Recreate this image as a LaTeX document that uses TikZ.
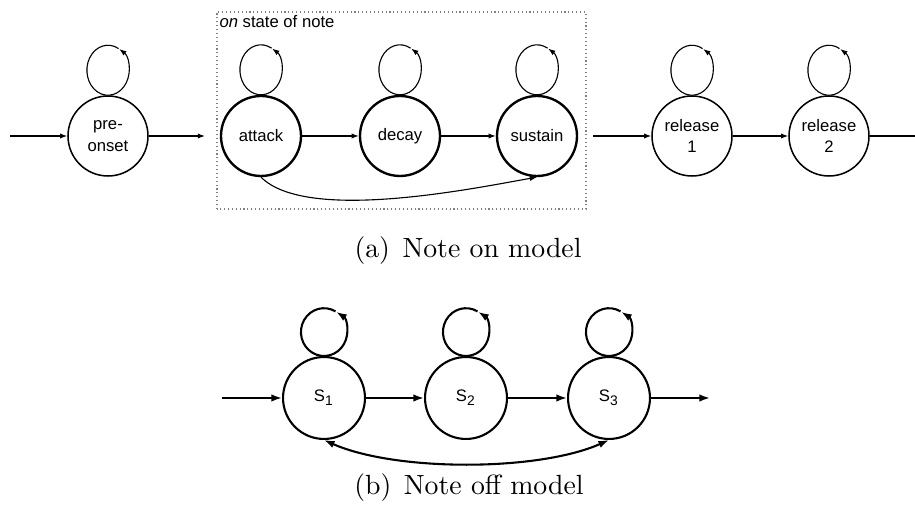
\documentclass[tikz,border=0pt]{standalone}
\usepackage{fontspec}
\setsansfont{Liberation Sans}
\usetikzlibrary{arrows.meta}

\begin{document}
\begin{tikzpicture}[%
      x=0.36pt, y=0.36pt,
      state/.style={circle, draw, inner sep=0pt, minimum size=28.8pt,
        line width=0.55pt, align=center,
        font=\sffamily\fontsize{6}{7.8}\selectfont},
      onstate/.style={state, line width=0.85pt},
      offstate/.style={state, minimum size=29.5pt, line width=0.75pt},
      trans/.style={-{Latex[length=2.6pt,width=1.9pt]}, line width=0.4pt},
      offtrans/.style={-{Latex[length=3.8pt,width=2.7pt]}, line width=0.75pt},
      ]
      \useasboundingbox (0,0) rectangle (915,505);

      % note on model
      \node[state]   (pre)     at (108,369) {pre-\\onset};
      \node[onstate] (attack)  at (261,369) {attack};
      \node[onstate] (decay)   at (400,369) {decay};
      \node[onstate] (sustain) at (537,369) {sustain};
      \node[state]   (rel1)    at (692,369) {release\\1};
      \node[state]   (rel2)    at (829,369) {release\\2};

      \draw [color=gray, line width=0.4pt, densely dotted] (217,296) rectangle (586,493);
      \node [anchor=base west, inner sep=0pt, font=\sffamily\fontsize{6}{7.8}\selectfont]
            (ontitle) at (219,477) {\textit{on} state of note};

      \coordinate (in)    at (10,369);
      \coordinate (onin)  at (205,369);
      \coordinate (onout) at (593,369);
      \coordinate (end)   at (915,369);

      \foreach \s in {pre,attack,decay,sustain,rel1,rel2}
        \draw [trans] (\s.north) ++(0pt,9pt) ++(60:7.6pt and 9pt)
              arc [start angle=60, end angle=418, x radius=7.6pt, y radius=9pt];

      \draw [trans] (in) -- (pre);
      \draw [trans] (pre) -- (onin);
      \draw [trans] (attack) -- (decay);
      \draw [trans] (decay) -- (sustain);
      \draw [trans] (attack.south) to [out=-45, in=-170, looseness=0.6] (sustain.south);
      \draw [trans] (onout) -- (rel1);
      \draw [trans] (rel1) -- (rel2);
      \draw [line width=0.4pt] (rel2) -- (end);

      \node [anchor=base] (capa) at (468,247) {(a)\hspace{4.5pt}Note on model};

      % note off model
      \node[offstate] (s1) at (324,107) {S\textsubscript{1}};
      \node[offstate] (s2) at (466,107) {S\textsubscript{2}};
      \node[offstate] (s3) at (609,107) {S\textsubscript{3}};

      \coordinate (offin)  at (222,107);
      \coordinate (offout) at (710,107);

      \foreach \s in {s1,s2,s3}
        \draw [offtrans] (\s.north) ++(0pt,8.6pt) ++(60:8.3pt and 8.6pt)
              arc [start angle=60, end angle=418, x radius=8.3pt, y radius=8.6pt];

      \draw [offtrans] (offin) -- (s1);
      \draw [offtrans] (s1) -- (s2);
      \draw [offtrans] (s2) -- (s3);
      \draw [offtrans] (s3) -- (offout);
      \draw [offtrans, {Latex[length=3.8pt,width=2.7pt]}-{Latex[length=3.8pt,width=2.7pt]}]
            (s1.south) to [out=-24, in=-156, looseness=0.7] (s3.south);

      \node [anchor=base] (capb) at (469,10) {(b)\hspace{4.5pt}Note off model};
\end{tikzpicture}
\end{document}
